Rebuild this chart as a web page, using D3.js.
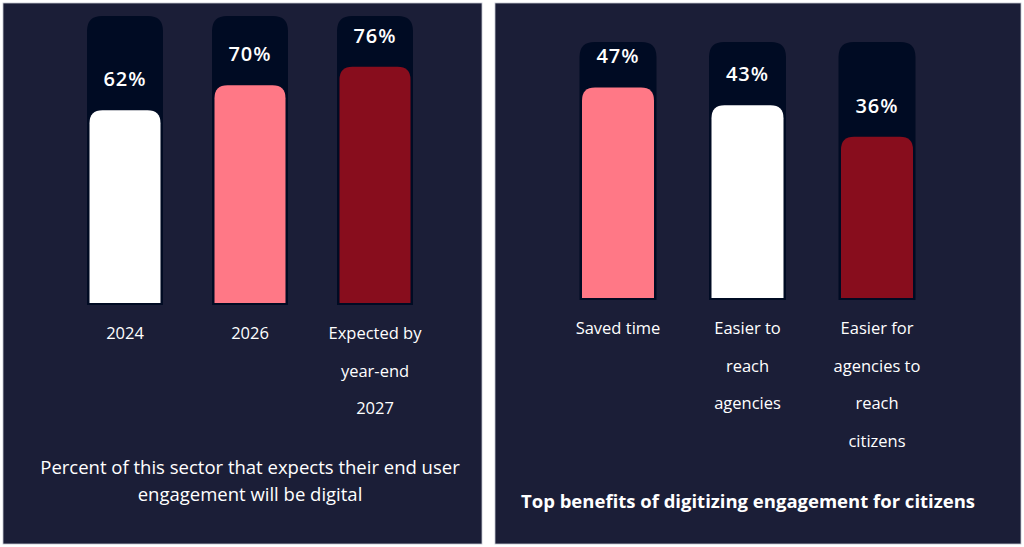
<!DOCTYPE html>
<html>
<head>
<meta charset="utf-8">
<script src="https://cdn.jsdelivr.net/npm/d3@7"></script>
<style>
  html, body { margin: 0; padding: 0; background: #ffffff; }
  svg { display: block; }
  text { font-family: "Open Sans", sans-serif; fill: #ffffff; }
</style>
</head>
<body>
<svg id="chart"></svg>
<script>
const width = 1024;
const height = 547;

// left panel
const leftCategories = ["2024", "2026", "Expected by year-end 2027"];
const leftLabelLines = [["2024"], ["2026"], ["Expected by", "year-end", "2027"]];
const leftValues = [62, 70, 76];
const leftColors = ["#ffffff", "#ff7886", "#880d1d"];
const leftCaption = ["Percent of this sector that expects their end user", "engagement will be digital"];

// right panel
const rightCategories = ["Saved time", "Easier to reach agencies", "Easier for agencies to reach citizens"];
const rightLabelLines = [["Saved time"], ["Easier to", "reach", "agencies"], ["Easier for", "agencies to", "reach", "citizens"]];
const rightValues = [47, 43, 36];
const rightColors = ["#ff7886", "#ffffff", "#880d1d"];
const rightCaption = ["Top benefits of digitizing engagement for citizens"];

const svg = d3.select("#chart").attr("width", width).attr("height", height);

// rect with rounded top corners only
function topRounded(x, y, w, h, r) {
  r = Math.min(r, h / 2);
  return "M" + x + "," + (y + h) +
    "V" + (y + r) +
    "Q" + x + "," + y + " " + (x + r) + "," + y +
    "H" + (x + w - r) +
    "Q" + (x + w) + "," + y + " " + (x + w) + "," + (y + r) +
    "V" + (y + h) + "Z";
}

function panel(opts) {
  const g = svg.append("g");

  g.append("rect")
    .attr("x", opts.box[0]).attr("y", opts.box[1])
    .attr("width", opts.box[2]).attr("height", opts.box[3])
    .attr("fill", "#1b1e37")
    .attr("stroke", "#c3c6d0")
    .attr("stroke-width", 0.8);

  const x = d3.scalePoint()
    .domain(opts.categories)
    .range(opts.xRange);

  const y = d3.scaleLinear()
    .domain([0, 100])
    .range([opts.base, opts.base - opts.pxPerPct * 100]);

  const items = opts.categories.map((c, i) => ({
    cat: c, value: opts.values[i], color: opts.colors[i], lines: opts.lines[i]
  }));

  // dark track behind each bar
  g.selectAll(".track")
    .data(items)
    .enter().append("path")
    .attr("class", "track")
    .attr("fill", "#000b23")
    .attr("d", d => topRounded(x(d.cat) - opts.trackW / 2, opts.trackTop,
      opts.trackW, opts.base + 2 - opts.trackTop, 15));

  g.selectAll(".bar")
    .data(items)
    .enter().append("path")
    .attr("class", "bar")
    .attr("fill", d => d.color)
    .attr("d", d => topRounded(x(d.cat) - opts.barW / 2, y(d.value),
      opts.barW, y(0) - y(d.value), 13));

  g.selectAll(".value")
    .data(items)
    .enter().append("text")
    .attr("class", "value")
    .attr("x", d => x(d.cat))
    .attr("y", d => y(d.value) - 24)
    .attr("text-anchor", "middle")
    .attr("font-size", 20)
    .attr("font-weight", 600)
    .attr("letter-spacing", 1)
    .text(d => d.value + "%");

  // category labels, one line per tspan
  const lab = g.selectAll(".cat")
    .data(items)
    .enter().append("text")
    .attr("class", "cat")
    .attr("text-anchor", "middle")
    .attr("font-size", 16.5);
  lab.selectAll("tspan")
    .data(d => d.lines.map(l => ({ l: l, cx: x(d.cat) })))
    .enter().append("tspan")
    .attr("x", d => d.cx)
    .attr("y", (d, i) => opts.labelY + i * 37.5)
    .text(d => d.l);

  const cap = g.append("text")
    .attr("text-anchor", "middle")
    .attr("font-size", opts.capSize)
    .attr("font-weight", opts.capWeight);
  cap.selectAll("tspan")
    .data(opts.caption)
    .enter().append("tspan")
    .attr("x", opts.capX)
    .attr("y", (d, i) => opts.capY + i * 27)
    .text(d => d);
}

panel({
  box: [3, 3, 479, 541],
  categories: leftCategories, values: leftValues, colors: leftColors, lines: leftLabelLines,
  xRange: [125, 375], base: 303, pxPerPct: 3.11,
  trackTop: 16, trackW: 76, barW: 71,
  labelY: 339,
  caption: leftCaption, capX: 250, capY: 474, capSize: 18.5, capWeight: 400
});

panel({
  box: [495, 3, 526, 541],
  categories: rightCategories, values: rightValues, colors: rightColors, lines: rightLabelLines,
  xRange: [618, 877], base: 298, pxPerPct: 4.48,
  trackTop: 42, trackW: 77, barW: 72,
  labelY: 334,
  caption: rightCaption, capX: 748, capY: 508, capSize: 18.5, capWeight: 700
});
</script>
</body>
</html>
